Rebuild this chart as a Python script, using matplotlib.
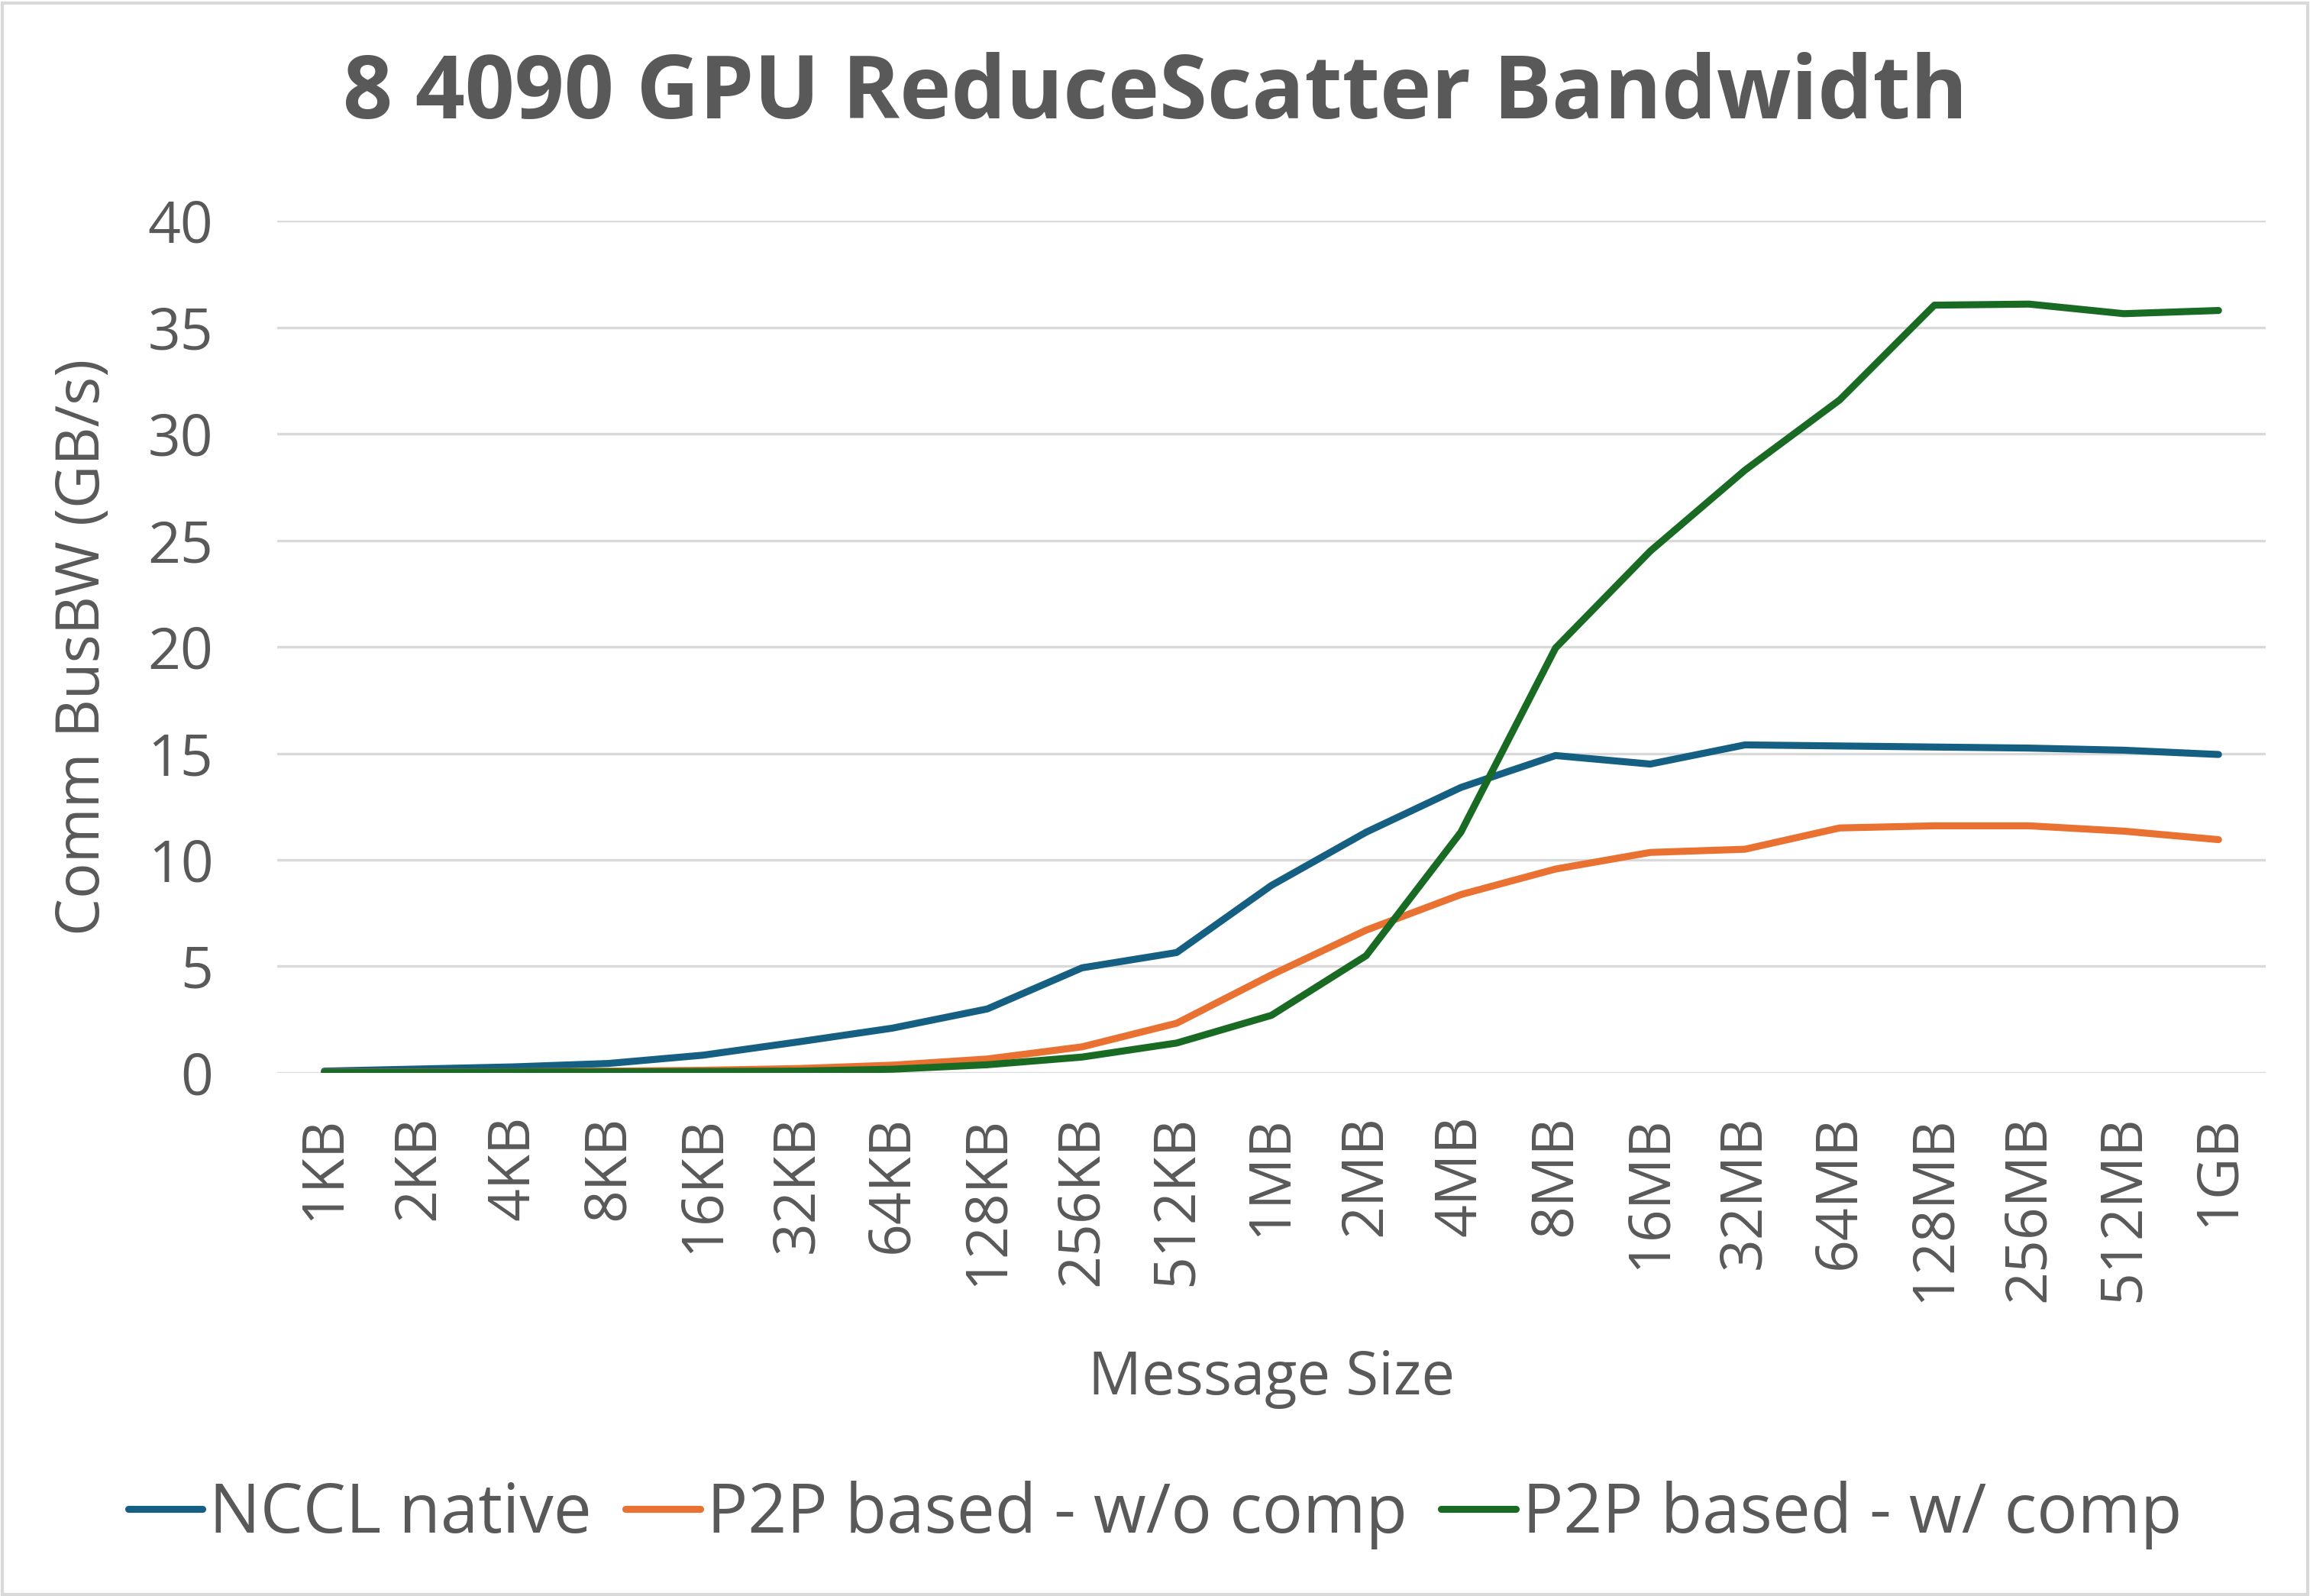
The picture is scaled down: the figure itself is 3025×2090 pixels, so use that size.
import matplotlib
matplotlib.use("Agg")
import matplotlib.pyplot as plt
from matplotlib.patches import Rectangle

sizes = ["1KB", "2KB", "4KB", "8KB", "16KB", "32KB", "64KB", "128KB", "256KB", "512KB",
         "1MB", "2MB", "4MB", "8MB", "16MB", "32MB", "64MB", "128MB", "256MB", "512MB", "1GB"]
nccl_native = [0.08, 0.18, 0.28, 0.44, 0.83, 1.45, 2.1, 3.0, 4.93, 5.65,
               8.8, 11.3, 13.4, 14.9, 14.5, 15.4, 15.35, 15.3, 15.25, 15.15, 14.95]
p2p_wo_comp = [0.03, 0.04, 0.05, 0.08, 0.12, 0.2, 0.36, 0.65, 1.22, 2.33,
               4.6, 6.7, 8.37, 9.57, 10.35, 10.5, 11.5, 11.6, 11.6, 11.35, 10.95]
p2p_w_comp = [0.02, 0.03, 0.04, 0.05, 0.06, 0.08, 0.17, 0.38, 0.74, 1.4,
              2.7, 5.5, 11.3, 19.95, 24.5, 28.3, 31.6, 36.05, 36.1, 35.65, 35.8]

series = [
    ("NCCL native", nccl_native, "#156082"),
    ("P2P based - w/o comp", p2p_wo_comp, "#E97132"),
    ("P2P based - w/ comp", p2p_w_comp, "#196B24"),
]

plt.rcParams['font.family'] = ['Open Sans', 'DejaVu Sans']
TXT = "#595959"

fig = plt.figure(figsize=(15.125, 10.45), dpi=200)
ax = fig.add_axes([0.1199, 0.3278, 0.8610, 0.5337])

x = list(range(len(sizes)))
for name, vals, col in series:
    ax.plot(x, vals, color=col, lw=3.3, label=name, solid_capstyle='round', solid_joinstyle='round')

ax.set_xlim(-0.5, len(sizes) - 0.5)
ax.set_ylim(0, 40)
ax.set_yticks(range(0, 41, 5))
ax.set_xticks(x)
ax.set_xticklabels(sizes, rotation=90)
ax.tick_params(axis='both', length=0, labelsize=27, labelcolor=TXT)
ax.tick_params(axis='y', pad=30)
ax.tick_params(axis='x', pad=20)
ax.grid(axis='y', color="#D9D9D9", lw=1.2)
ax.set_axisbelow(True)
for s in ax.spines.values():
    s.set_visible(False)

ax.set_ylabel("Comm BusBW (GB/s)", fontsize=28, color=TXT, labelpad=16)
ax.set_xlabel("Message Size", fontsize=28, color=TXT, labelpad=22)

fig.text(0.5, 0.94, "8 4090 GPU ReduceScatter Bandwidth", ha='center', va='center',
         fontsize=41, fontweight='bold', color=TXT)

leg = fig.legend(loc='center', bbox_to_anchor=(0.5, 0.051), ncol=3, frameon=False,
                 fontsize=32, handlelength=1.1, columnspacing=0.5, handletextpad=0.1)
for t in leg.get_texts():
    t.set_color(TXT)
for h in leg.get_lines():
    h.set_linewidth(3.3)

fig.patches.append(Rectangle((0.001, 0.001), 0.998, 0.997, transform=fig.transFigure,
                             fill=False, edgecolor="#D9D9D9", lw=1.5))

fig.savefig("out.png", dpi=200, facecolor='white')
